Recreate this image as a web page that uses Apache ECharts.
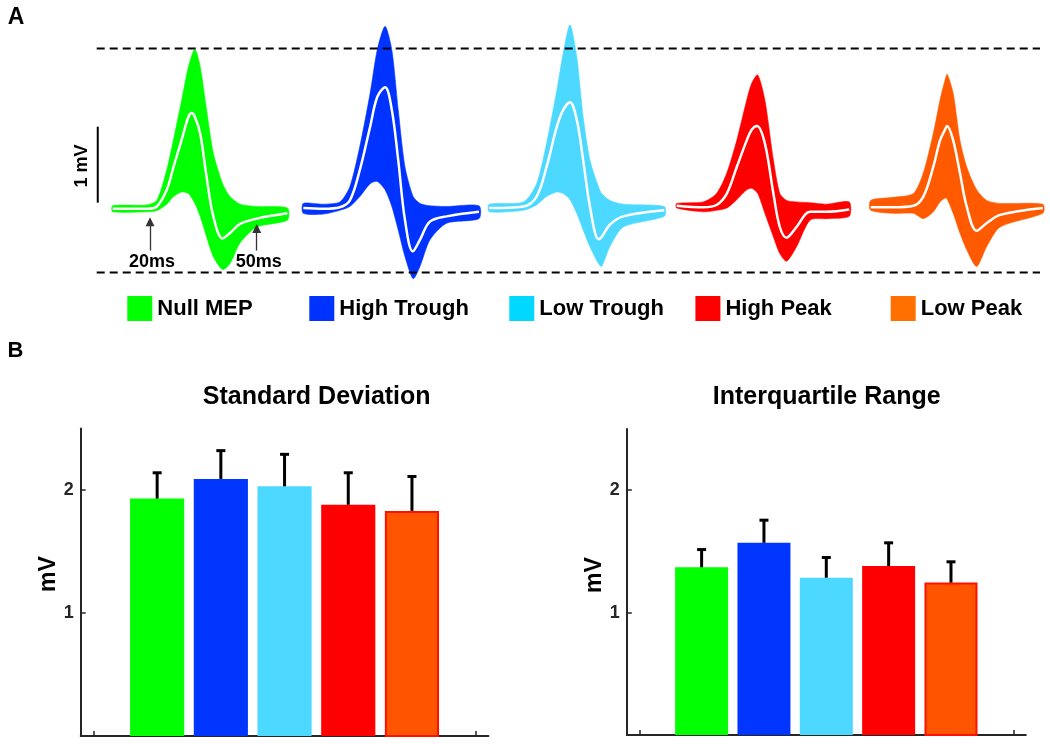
<!DOCTYPE html>
<html>
<head>
<meta charset="utf-8">
<script src="https://cdn.jsdelivr.net/npm/echarts@6/dist/echarts.min.js"></script>
<style>html,body{margin:0;padding:0;background:#fff}#c{width:1050px;height:744px}</style>
</head>
<body>
<div id="c"></div>
<script>
// ---------------- DATA ----------------
const conditions = ['Null MEP', 'High Trough', 'Low Trough', 'High Peak', 'Low Peak'];

// Panel A: MEP envelopes [time ms, lower mV, upper mV] and mean traces [time ms, mV]
const nullMepBand = [[9.5,-0.05,0.03],[19.1,-0.05,0.04],[21.9,-0.035,0.1],[24.7,0.05,0.5],[26.6,0.15,0.9],[28.9,0.21,1.42],[30.8,0.19,1.86],[32.6,0.06,2.09],[34.1,-0.11,1.86],[35.9,-0.38,1.29],[37.8,-0.64,0.72],[40.4,-0.81,0.32],[42.5,-0.73,0.15],[45.3,-0.46,0.05],[50.0,-0.25,0.02],[58.6,-0.16,0.0]];
const nullMepMean = [[9.5,-0.01],[19.1,-0.01],[21.9,0.02],[24.7,0.24],[26.6,0.54],[28.9,0.9],[30.8,1.2],[31.7,1.25],[32.6,1.2],[34.1,0.98],[35.9,0.41],[37.8,-0.11],[40.4,-0.40],[42.5,-0.33],[45.3,-0.21],[50.0,-0.14],[58.6,-0.07]];

const highTroughBand = [[10,-0.07,0.06],[15.6,-0.08,0.05],[20.3,-0.03,0.08],[23.1,0.02,0.28],[25.9,0.15,0.81],[28.8,0.32,1.51],[30.8,0.35,2.08],[33.0,0.24,2.39],[34.9,0.02,2.08],[36.7,-0.29,1.29],[38.6,-0.64,0.54],[40.9,-0.93,0.15],[42.8,-0.77,0.06],[45.6,-0.42,0.03],[50.3,-0.2,0.02],[59.4,-0.14,0.03]];
const highTroughMean = [[10,0],[15.6,-0.01],[20.3,0.01],[23.1,0.1],[25.9,0.5],[28.8,1.07],[30.8,1.46],[33.0,1.59],[34.9,1.29],[36.7,0.63],[38.6,-0.16],[40.8,-0.57],[42.8,-0.42],[45.6,-0.18],[50.3,-0.11],[59.4,-0.05]];

const lowTroughBand = [[10,-0.05,0.05],[19.6,-0.03,0.08],[23.3,0.04,0.32],[26.1,0.15,0.85],[29.0,0.21,1.55],[30.8,0.19,2.04],[32.7,0.11,2.41],[34.6,-0.07,1.99],[36.4,-0.29,1.2],[38.3,-0.51,0.63],[40.7,-0.73,0.28],[41.6,-0.77,0.19],[43.9,-0.51,0.1],[47.7,-0.25,0.05],[59.2,-0.11,0.02]];
const lowTroughMean = [[10,0],[19.6,0.02],[23.3,0.15],[26.1,0.54],[29.0,1.07],[30.8,1.29],[32.7,1.39],[34.6,1.16],[36.4,0.63],[38.3,0.02],[40.7,-0.41],[41.6,-0.38],[43.9,-0.22],[47.7,-0.11],[59.2,-0.03]];

const highPeakBand = [[10,0.0,0.06],[17.5,-0.05,0.08],[21.2,-0.03,0.19],[24.1,0.0,0.46],[26.9,0.11,0.89],[29.7,0.24,1.42],[31.1,0.26,1.64],[32.8,0.19,1.75],[34.8,-0.07,1.42],[37.2,-0.38,0.63],[39.0,-0.6,0.19],[40.9,-0.7,0.1],[43.7,-0.51,0.08],[47.5,-0.16,0.07],[52.2,-0.14,0.05],[58.5,-0.11,0.08]];
const highPeakMean = [[10,0.03],[17.5,0.01],[21.2,0.04],[24.1,0.19],[26.9,0.54],[29.7,0.89],[31.1,1.03],[32.6,1.08],[34.8,0.85],[37.2,0.19],[39.0,-0.25],[40.9,-0.39],[43.7,-0.25],[47.5,-0.05],[52.2,-0.05],[58.5,-0.02]];

const lowPeakBand = [[10,-0.03,0.1],[16.4,-0.07,0.14],[22.0,-0.07,0.19],[24.8,-0.14,0.46],[27.6,-0.05,0.98],[29.5,0.08,1.42],[30.9,0.13,1.68],[31.5,0.12,1.76],[33.2,-0.07,1.51],[35.1,-0.33,0.89],[37.0,-0.55,0.54],[39.8,-0.77,0.24],[42.6,-0.51,0.1],[46.4,-0.25,0.06],[58.4,-0.07,0.05]];
const lowPeakMean = [[10,0.01],[16.4,0.01],[22.0,0.03],[24.8,0.15],[27.6,0.54],[29.5,0.89],[30.9,1.03],[31.5,1.08],[33.2,0.89],[35.1,0.46],[37.0,0.02],[39.8,-0.3],[42.6,-0.2],[46.4,-0.09],[58.4,0.0]];

const refLevels = [2.10, -0.85];          // dashed reference lines (mV)
const arrowTimes = [20, 50];              // ms markers
const arrowTips = [-0.18, -0.27];         // arrow head centres (mV)
const arrowTail = -0.56;                  // mV
const scaleBarMV = [0.07, 1.07];          // 1 mV scale bar (from, to)
const scaleBarTime = 5.3;                 // ms

// Panel B
const barPositions = [1, 2, 3, 4, 5];
const sdMean = [1.93, 2.09, 2.03, 1.88, 1.83];
const sdErr  = [0.21, 0.23, 0.26, 0.26, 0.28];
const iqrMean = [1.37, 1.57, 1.285, 1.38, 1.245];
const iqrErr  = [0.145, 0.185, 0.165, 0.19, 0.17];
const yTicks = [1, 2];
const xTicks = [0, 6];

// ---------------- STYLE / LAYOUT ----------------
const FONT = '"Liberation Sans", Arial, Helvetica, sans-serif';
const traceColors = ['#00FF00', '#0033FF', '#4DD8FF', '#FF0000', '#FF5A00'];
const legendColors = ['#00FF00', '#0033FF', '#00D8FF', '#FF0000', '#FF7000'];
const barColors = ['#00FF00', '#0036FF', '#4CD8FF', '#FF0000', '#FF5500'];
const bands = [nullMepBand, highTroughBand, lowTroughBand, highPeakBand, lowPeakBand];
const means = [nullMepMean, highTroughMean, lowTroughMean, highPeakMean, lowPeakMean];
const traceLefts = [78.9, 267.7, 453.7, 641.1, 835.1];
const legendLefts = [127.3, 309.3, 509.3, 695.4, 890.7];
const BAR_HALF = 0.425;

const grids = [], xAxes = [], yAxes = [], series = [];
for (let k = 0; k < 5; k++) {
  grids.push({left: traceLefts[k], top: 18, width: 213.4, height: 266});
  xAxes.push({gridIndex: k, type: 'value', min: 0, max: 60, show: false});
  yAxes.push({gridIndex: k, type: 'value', min: -1, max: 2.5, show: false});
}
// overlay grid for dashed lines
grids.push({left: 96.7, top: 18, width: 943.3, height: 266});
xAxes.push({gridIndex: 5, type: 'value', min: 0, max: 1, show: false});
yAxes.push({gridIndex: 5, type: 'value', min: -1, max: 2.5, show: false});
// bar grids
grids.push({left: 80.7, top: 428.5, width: 407.7, height: 307.5});
grids.push({left: 626.8, top: 429, width: 399, height: 306});
[6, 7].forEach(g => {
  xAxes.push({gridIndex: g, type: 'value', min: -0.2, max: 6.2,
    axisLine: {show: true, onZero: false, lineStyle: {color: '#262626', width: 2}},
    axisTick: {show: true, inside: true, length: 5, customValues: xTicks, lineStyle: {color: '#262626', width: 1.5}},
    axisLabel: {show: false}, splitLine: {show: false}});
  yAxes.push({gridIndex: g, type: 'value', min: 0, max: 2.5, interval: 1,
    axisLine: {show: true, onZero: false, lineStyle: {color: '#262626', width: 2}},
    axisTick: {show: true, inside: true, length: 5, customValues: yTicks, lineStyle: {color: '#262626', width: 1.5}},
    axisLabel: {show: true, customValues: yTicks, margin: 7, fontSize: 18, fontWeight: 'bold', color: '#262626', fontFamily: FONT},
    splitLine: {show: false}});
});

function bandRenderer(band, color) {
  return function (params, api) {
    if (params.dataIndex !== 0) return;
    const upper = band.map(r => api.coord([r[0], r[2]]));
    const lower = band.slice().reverse().map(r => api.coord([r[0], r[1]]));
    return {type: 'polygon', shape: {points: upper.concat(lower), smooth: 0.25},
      style: {fill: color, stroke: color, lineWidth: 0.6}};
  };
}

for (let k = 0; k < 5; k++) {
  series.push({
    name: conditions[k], type: 'custom', xAxisIndex: k, yAxisIndex: k,
    itemStyle: {color: traceColors[k]}, clip: false,
    encode: {x: 0, y: 1},
    data: [[bands[k][0][0], 0]],
    renderItem: bandRenderer(bands[k], traceColors[k])
  });
  const meanSeries = {
    name: conditions[k] + ' mean', type: 'line', xAxisIndex: k, yAxisIndex: k,
    data: means[k], smooth: 0.35, symbol: 'none', z: 3,
    lineStyle: {color: '#FFFFFF', width: 2.5}
  };
  if (k === 0) {
    meanSeries.markLine = {
      silent: true, symbol: ['none', 'triangle'], symbolSize: 9, animation: false,
      lineStyle: {color: '#333333', width: 1.3, type: 'solid'},
      itemStyle: {color: '#333333'},
      label: {show: false},
      data: arrowTimes.map((t, i) => [{coord: [t, arrowTail]}, {coord: [t, arrowTips[i]]}])
    };
    meanSeries.markPoint = {
      silent: true, symbol: 'circle', symbolSize: 1, itemStyle: {color: 'rgba(0,0,0,0)'},
      label: {show: true, position: 'inside', formatter: p => p.name, color: '#000',
        fontSize: 18, fontWeight: 'bold', fontFamily: FONT, offset: [2, 0]},
      data: arrowTimes.map(t => ({name: t + 'ms', coord: [t, -0.707]}))
    };
  }
  series.push(meanSeries);
}
// 1 mV scale bar
series.push({type: 'line', xAxisIndex: 0, yAxisIndex: 0, symbol: 'none',
  data: scaleBarMV.map(v => [scaleBarTime, v]), lineStyle: {color: '#000', width: 2}});
// dashed reference lines
refLevels.forEach(v => series.push({type: 'line', xAxisIndex: 5, yAxisIndex: 5, symbol: 'none',
  data: [[0, v], [1, v]], lineStyle: {color: '#000', width: 2, type: [8, 5]}}));

function barItem(params, api) {
  const x = api.value(0), v = api.value(1), e = api.value(2);
  const i = params.dataIndex;
  const tl = api.coord([x - BAR_HALF, v]);
  const br = api.coord([x + BAR_HALF, 0]);
  const top = api.coord([x, v + e]);
  const capHalf = 4.5;
  const isOrange = i === 4;
  const rect = isOrange
    ? {type: 'rect', shape: {x: tl[0] + 1, y: tl[1] + 1, width: br[0] - tl[0] - 2, height: br[1] - tl[1] - 1},
       style: {fill: barColors[i], stroke: '#FF1000', lineWidth: 2}}
    : {type: 'rect', shape: {x: tl[0], y: tl[1], width: br[0] - tl[0], height: br[1] - tl[1]},
       style: {fill: barColors[i]}};
  return {type: 'group', children: [
    rect,
    {type: 'line', shape: {x1: top[0], y1: tl[1], x2: top[0], y2: top[1]}, style: {stroke: '#000', lineWidth: 3}},
    {type: 'line', shape: {x1: top[0] - capHalf, y1: top[1], x2: top[0] + capHalf, y2: top[1]}, style: {stroke: '#000', lineWidth: 3}}
  ]};
}
series.push({type: 'custom', name: 'Standard Deviation', xAxisIndex: 6, yAxisIndex: 6, renderItem: barItem,
  encode: {x: 0, y: 1}, data: sdMean.map((v, i) => [barPositions[i], v, sdErr[i]])});
series.push({type: 'custom', name: 'Interquartile Range', xAxisIndex: 7, yAxisIndex: 7, renderItem: barItem,
  encode: {x: 0, y: 1}, data: iqrMean.map((v, i) => [barPositions[i], v, iqrErr[i]])});

const legends = conditions.map((name, i) => ({
  left: legendLefts[i], top: 296, padding: 0, itemWidth: 25, itemHeight: 25, icon: 'rect',
  selectedMode: false,
  data: [{name: name, itemStyle: {color: legendColors[i]}}],
  textStyle: {fontSize: 22, fontWeight: 'bold', color: '#000', fontFamily: FONT}
}));

function txt(x, y, text, size, rot) {
  return {type: 'text', x: x, y: y, rotation: rot || 0, silent: true,
    style: {text: text, fontSize: size, fontWeight: 'bold', fontFamily: FONT, fill: '#000',
      align: 'center', verticalAlign: 'middle', textAlign: 'center', textVerticalAlign: 'middle'}};
}

const option = {
  animation: false,
  backgroundColor: '#ffffff',
  grid: grids, xAxis: xAxes, yAxis: yAxes,
  legend: legends,
  series: series,
  graphic: [
    txt(16, 17.5, 'A', 23),
    txt(15.5, 350.5, 'B', 22),
    txt(316.7, 397.3, 'Standard Deviation', 25),
    txt(826.7, 397.3, 'Interquartile Range', 25),
    txt(49, 574, 'mV', 23, Math.PI / 2),
    txt(595, 575, 'mV', 23, Math.PI / 2),
    txt(81.7, 166, '1 mV', 18, Math.PI / 2)
  ]
};
const chart = echarts.init(document.getElementById('c'), null, {renderer: 'canvas'});
chart.setOption(option);
</script>
</body>
</html>
